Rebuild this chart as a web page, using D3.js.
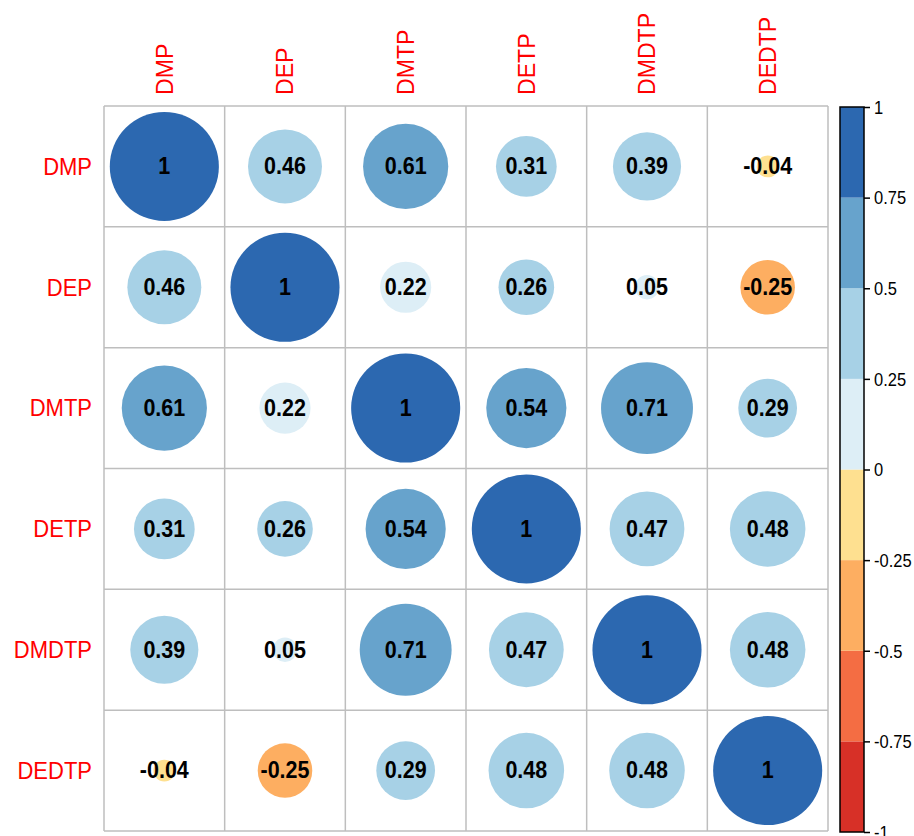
<!DOCTYPE html>
<html>
<head>
<meta charset="utf-8">
<script src="https://cdn.jsdelivr.net/npm/d3@7"></script>
<style>
  html, body { margin: 0; padding: 0; background: #fff; }
  svg { display: block; font-family: "Liberation Sans", Arial, sans-serif; }
</style>
</head>
<body>
<svg id="chart" width="914" height="836"></svg>
<script>
// Variables shown on both axes
const variables = ["DMP", "DEP", "DMTP", "DETP", "DMDTP", "DEDTP"];

// Correlation matrix, one row per variable
const rowDMP   = [1, 0.46, 0.61, 0.31, 0.39, -0.04];
const rowDEP   = [0.46, 1, 0.22, 0.26, 0.05, -0.25];
const rowDMTP  = [0.61, 0.22, 1, 0.54, 0.71, 0.29];
const rowDETP  = [0.31, 0.26, 0.54, 1, 0.47, 0.48];
const rowDMDTP = [0.39, 0.05, 0.71, 0.47, 1, 0.48];
const rowDEDTP = [-0.04, -0.25, 0.29, 0.48, 0.48, 1];
const matrix = [rowDMP, rowDEP, rowDMTP, rowDETP, rowDMDTP, rowDEDTP];

// Colour bins from -1 to 1
const binBreaks = [-0.75, -0.5, -0.25, 0, 0.25, 0.5, 0.75];
const binColors = ["#D73027", "#F46D43", "#FDAE61", "#FEE090",
                   "#DDEEF6", "#A7D1E6", "#67A3CC", "#2C68B0"];
const legendTicks = [1, 0.75, 0.5, 0.25, 0, -0.25, -0.5, -0.75, -1];

// plain ASCII hyphen for negative numbers
const fmt = v => String(v);
const STRETCH = 1.1; // text is drawn slightly taller than wide

const svg = d3.select("#chart");
svg.append("rect").attr("width", 914).attr("height", 836).attr("fill", "#fff");

const grid = { left: 104, right: 828, top: 106, bottom: 831 };

const x = d3.scaleBand().domain(variables).range([grid.left, grid.right]);
const y = d3.scaleBand().domain(variables).range([grid.top, grid.bottom]);
const rScale = d3.scaleSqrt().domain([0, 1]).range([0, x.bandwidth() * 0.452]);

// right-closed bins: (a, b]
const colorOf = v => binColors[d3.bisectLeft(binBreaks, v)];

const cells = [];
matrix.forEach((row, i) => row.forEach((v, j) => cells.push({ r: variables[i], c: variables[j], v })));

// circles
svg.append("g").selectAll("circle").data(cells).join("circle")
  .attr("cx", d => x(d.c) + x.bandwidth() / 2)
  .attr("cy", d => y(d.r) + y.bandwidth() / 2)
  .attr("r", d => rScale(Math.abs(d.v)))
  .attr("fill", d => colorOf(d.v));

// grid lines
const gl = svg.append("g").attr("stroke", "#BEBEBE").attr("stroke-width", 1.5);
d3.range(variables.length + 1).forEach(k => {
  const px = grid.left + k * x.step();
  const py = grid.top + k * y.step();
  gl.append("line").attr("x1", px).attr("x2", px).attr("y1", grid.top).attr("y2", grid.bottom);
  gl.append("line").attr("y1", py).attr("y2", py).attr("x1", grid.left).attr("x2", grid.right);
});

// value labels
svg.append("g").selectAll("text").data(cells).join("text")
  .attr("transform", d => `translate(${x(d.c) + x.bandwidth() / 2},${y(d.r) + y.bandwidth() / 2}) scale(1,${STRETCH})`)
  .attr("text-anchor", "middle")
  .attr("dominant-baseline", "central")
  .attr("font-size", 21.5)
  .attr("font-weight", "bold")
  .attr("fill", "#000")
  .text(d => fmt(d.v));

// row labels
svg.append("g").selectAll("text").data(variables).join("text")
  .attr("transform", d => `translate(92,${y(d) + y.bandwidth() / 2}) scale(1,${STRETCH})`)
  .attr("text-anchor", "end")
  .attr("dominant-baseline", "central")
  .attr("font-size", 22)
  .attr("fill", "#FF0000")
  .text(d => d);

// column labels (vertical)
svg.append("g").selectAll("text").data(variables).join("text")
  .attr("transform", d => `translate(${x(d) + x.bandwidth() / 2},95) rotate(-90) scale(1.05,${STRETCH})`)
  .attr("text-anchor", "start")
  .attr("dominant-baseline", "central")
  .attr("font-size", 22)
  .attr("fill", "#FF0000")
  .text(d => d);

// colour legend
const legend = { left: 840, right: 864, top: 107, bottom: 832 };
const ly = d3.scaleLinear().domain([-1, 1]).range([legend.bottom, legend.top]);
const binEdges = [-1, ...binBreaks, 1];
svg.append("g").selectAll("rect").data(binColors).join("rect")
  .attr("x", legend.left)
  .attr("width", legend.right - legend.left)
  .attr("y", (d, i) => ly(binEdges[i + 1]))
  .attr("height", (d, i) => ly(binEdges[i]) - ly(binEdges[i + 1]))
  .attr("fill", d => d);
svg.append("rect")
  .attr("x", legend.left).attr("y", legend.top)
  .attr("width", legend.right - legend.left)
  .attr("height", legend.bottom - legend.top)
  .attr("fill", "none").attr("stroke", "#000").attr("stroke-width", 1.5);

const axis = d3.axisRight(ly).tickValues(legendTicks).tickSize(6).tickPadding(4)
  .tickFormat(fmt);
const axg = svg.append("g").attr("transform", `translate(${legend.right},0)`).call(axis);
axg.select(".domain").remove();
axg.selectAll(".tick line").attr("stroke", "#000").attr("stroke-width", 1.5);
// tick text sits at the tick group's origin, so stretch it in place
axg.selectAll(".tick text")
  .attr("font-size", 16.5).attr("fill", "#000")
  .attr("font-family", "Liberation Sans, Arial, sans-serif")
  .attr("transform", `scale(1,${STRETCH})`)
  .attr("dy", "0.35em");
</script>
</body>
</html>
